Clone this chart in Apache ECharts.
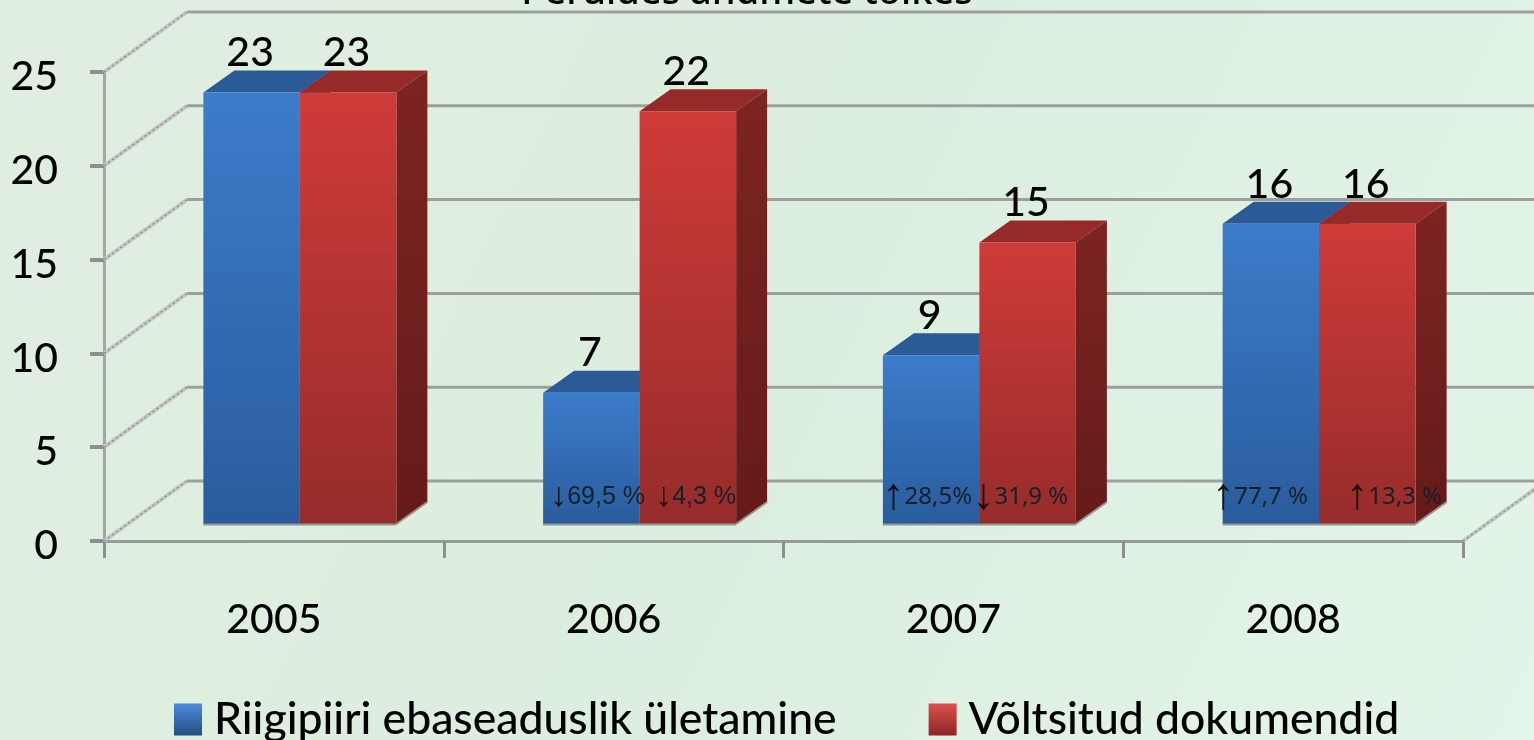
<!DOCTYPE html>
<html>
<head>
<meta charset="utf-8">
<style>html,body{margin:0;padding:0;background:#e0f1e2;}#chart{width:1534px;height:740px;}</style>
<script src="https://cdn.jsdelivr.net/npm/echarts@6/dist/echarts.min.js"></script>
</head>
<body>
<div id="chart"></div>
<script>
// andmed
var years = ['2005', '2006', '2007', '2008'];
var borderCrossing = [23, 7, 9, 16];
var fakeDocuments = [23, 22, 15, 16];
var borderChange = ['', '↓69,5 %', '↑28,5%', '↑77,7 %'];
var documentChange = ['', '↓4,3 %', '↓31,9 %', '↑13,3 %'];
var yTicks = [0, 5, 10, 15, 20, 25];

var FONT = 'Lato, "Noto Sans", sans-serif';
var BACK_DX = 83, BACK_DY = -60;      //tagaseina nihe
var DEPTH_DX = 31, DEPTH_DY = -22;    //tulba sügavus
var BASE_DY = -17;                    //tulba alus põrandal
var GROUP_DX = 26;                    //tulbad ei ole kategooria keskel

var chart = echarts.init(document.getElementById('chart'));

function grad(a, b) {
    return new echarts.graphic.LinearGradient(0, 0, 0, 1, [{offset: 0, color: a}, {offset: 1, color: b}]);
}

//üks 3D tulp: esikülg, pealmine ja parem külg
function barItem(side, colors) {
    return function(params, api) {
        var i = api.value(0);
        var v = api.value(1);
        var base = api.coord([i, 0]);
        var top = api.coord([i, v]);
        var w = api.size([1, 0])[0] * 0.284;
        var x0 = base[0] + GROUP_DX + (side == 0 ? -w : 0);
        var x1 = x0 + w;
        var y0 = base[1] + BASE_DY;
        var y1 = top[1] + BASE_DY;
        return {
            type: 'group',
            children: [
                {type: 'polygon', shape: {points: [[x0, y1], [x1, y1], [x1 + DEPTH_DX, y1 + DEPTH_DY], [x0 + DEPTH_DX, y1 + DEPTH_DY]]}, style: {fill: colors.top}},
                {type: 'polygon', shape: {points: [[x1, y1], [x1 + DEPTH_DX, y1 + DEPTH_DY], [x1 + DEPTH_DX, y0 + DEPTH_DY], [x1, y0]]}, style: {fill: grad(colors.side1, colors.side2)}},
                {type: 'line', shape: {x1: x1, y1: y0, x2: x1 + DEPTH_DX, y2: y0 + DEPTH_DY}, style: {stroke: '#a08f8c', lineWidth: 2}},
                {type: 'rect', shape: {x: x0, y: y1, width: w, height: y0 - y1}, style: {fill: grad(colors.front1, colors.front2)}},
                {type: 'line', shape: {x1: x0, y1: y0 + 0.5, x2: x1, y2: y0 + 0.5}, style: {stroke: '#8f9a96', lineWidth: 2}},
                {type: 'text', x: (x0 + x1) / 2 + DEPTH_DX / 2 - 17, y: y1 + DEPTH_DY + 3, style: {text: String(v), font: '500 41px ' + FONT, fill: '#000', align: 'center', verticalAlign: 'bottom'}}
            ]
        };
    };
}

function diagonal(x, y) {
    return [
        {type: 'line', shape: {x1: x, y1: y, x2: x + BACK_DX, y2: y + BACK_DY}, style: {stroke: '#c4c6c5', lineWidth: 4}},
        {type: 'line', shape: {x1: x, y1: y, x2: x + BACK_DX, y2: y + BACK_DY}, style: {stroke: '#8e9290', lineWidth: 1.5, lineDash: [2, 3]}}
    ];
}

//tagaseina jooned ja diagonaalid
function wallItem(params, api) {
    var p = api.coord([0, api.value(0)]);
    var x = p[0] - api.size([1, 0])[0] / 2;
    var bx = x + BACK_DX, by = p[1] + BACK_DY;
    return {
        type: 'group',
        children: [
            {type: 'line', shape: {x1: bx, y1: by, x2: 1560, y2: by}, style: {stroke: '#9c9f9e', lineWidth: 3}}
        ].concat(diagonal(x, p[1]))
    };
}

//põranda parem diagonaal
function floorItem(params, api) {
    var p = api.coord([years.length - 1, 0]);
    return {type: 'group', children: diagonal(p[0] + api.size([1, 0])[0] / 2, p[1])};
}

//protsendid tulba sees
function changeItem(labels, dx, fontSize, family, arrowSize) {
    return function(params, api) {
        var i = api.value(0);
        var p = api.coord([i, 0]);
        var t = labels[i];
        return {
            type: 'text',
            x: p[0] + dx[i],
            y: 497,
            style: {
                text: '{a|' + t.charAt(0) + '}{b|' + t.slice(1) + '}',
                align: 'center',
                verticalAlign: 'middle',
                rich: {
                    a: {font: arrowSize[i] + 'px "Liberation Sans"', fill: '#111'},
                    b: {font: fontSize[i] + 'px ' + family[i], fill: '#15202b'}
                }
            }
        };
    };
}

var blue = {top: '#2b5b96', side1: '#234b7c', side2: '#1d3f69', front1: '#3c7ccb', front2: '#2a5c9c'};
var red = {top: '#962a28', side1: '#7c2421', side2: '#651b19', front1: '#cf3b39', front2: '#962c2a'};
var idx = years.map(function(y, i) { return i; });
var ARIAL = '"Liberation Sans"', NOTO = '"Noto Sans"';

var option = {
    animation: false,
    backgroundColor: new echarts.graphic.LinearGradient(0, 0, 1, 1, [
        {offset: 0, color: '#e0eee0'},
        {offset: 0.5, color: '#dceede'},
        {offset: 1, color: '#e2f5e8'}
    ]),
    title: {
        text: 'Peruldes andmete tõlkes',
        left: 742,
        top: -31,
        textAlign: 'center',
        textStyle: {fontFamily: '"Noto Sans"', fontSize: 38, fontWeight: 500, color: '#000'}
    },
    legend: {
        left: 169,
        top: 692,
        padding: 5,
        itemWidth: 28,
        itemHeight: 32,
        itemGap: 92,
        icon: 'rect',
        textStyle: {fontFamily: FONT, fontSize: 44.5, fontWeight: 500, color: '#000', padding: [0, 0, 0, 7]},
        data: ['Riigipiiri ebaseaduslik ületamine', 'Võltsitud dokumendid']
    },
    grid: {left: 104, right: 71, top: 72, height: 469},
    xAxis: {
        type: 'category',
        data: years,
        axisLine: {lineStyle: {color: '#979b99', width: 3}},
        axisTick: {show: true, length: 17, lineStyle: {color: '#8e8f8f', width: 3}},
        axisLabel: {fontFamily: FONT, fontSize: 41, fontWeight: 500, color: '#000', margin: 58}
    },
    yAxis: {
        type: 'value',
        min: 0,
        max: 25,
        interval: 5,
        splitLine: {show: false},
        axisLine: {show: true, lineStyle: {color: '#a3a6a5', width: 3}},
        axisTick: {show: true, length: 14, lineStyle: {color: '#8e8f8f', width: 4}},
        axisLabel: {
            margin: 46,
            formatter: '{t|{value}}',
            rich: {t: {fontFamily: FONT, fontSize: 41, fontWeight: 500, color: '#000', padding: [10, 0, 0, 0]}}
        }
    },
    series: [
        {type: 'custom', name: 'wall', silent: true, clip: false, z: 1, renderItem: wallItem, data: yTicks.map(function(t) { return [t]; }), encode: {y: 0}},
        {type: 'custom', name: 'floor', silent: true, clip: false, z: 1, renderItem: floorItem, data: [[0]], encode: {y: 0}},
        {type: 'custom', name: 'Riigipiiri ebaseaduslik ületamine', clip: false, z: 3, renderItem: barItem(0, blue), itemStyle: {color: grad('#4b8ade', '#24507f')}, data: idx.map(function(i) { return [i, borderCrossing[i]]; }), encode: {x: 0, y: 1}},
        {type: 'custom', name: 'Võltsitud dokumendid', clip: false, z: 4, renderItem: barItem(1, red), itemStyle: {color: grad('#e0504c', '#8a2624')}, data: idx.map(function(i) { return [i, fakeDocuments[i]]; }), encode: {x: 0, y: 1}},
        {type: 'custom', name: 'change1', silent: true, clip: false, z: 6, renderItem: changeItem(borderChange, [0, -16, -26, -33], [0, 25, 24, 24], ['', ARIAL, NOTO, NOTO], [0, 34, 44, 44]), data: idx.map(function(i) { return [i]; }), encode: {x: 0}},
        {type: 'custom', name: 'change2', silent: true, clip: false, z: 6, renderItem: changeItem(documentChange, [0, 82, 67, 101], [0, 25, 24, 24], ['', ARIAL, NOTO, NOTO], [0, 34, 44, 44]), data: idx.map(function(i) { return [i]; }), encode: {x: 0}}
    ]
};
chart.setOption(option);
</script>
</body>
</html>
